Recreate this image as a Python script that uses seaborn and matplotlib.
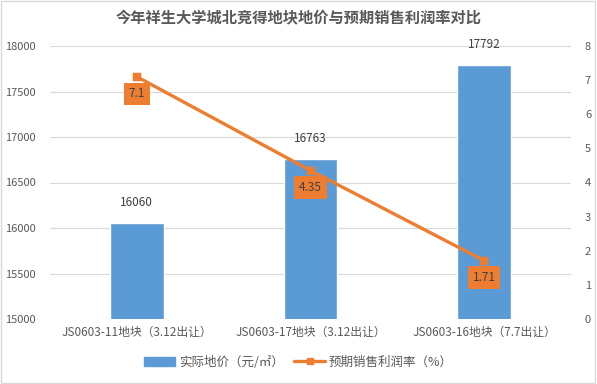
import matplotlib
matplotlib.use("Agg")
import matplotlib.pyplot as plt
import seaborn as sns
from matplotlib.patches import Patch
from matplotlib.lines import Line2D

categories = ["JS0603-11地块（3.12出让）", "JS0603-17地块（3.12出让）", "JS0603-16地块（7.7出让）"]
land_price = [16060, 16763, 17792]
profit_rate = [7.1, 4.35, 1.71]
rate_labels = ["7.1", "4.35", "1.71"]

BLUE = "#5B9BD5"
ORANGE = "#ED7D31"
TXT = "#595959"

sns.set_theme(style="white")
plt.rcParams["font.family"] = ["Noto Sans CJK SC", "DejaVu Sans"]

fig = plt.figure(figsize=(5.97, 3.84), dpi=100)
ax = fig.add_axes([50 / 597, 1 - 319 / 384, 521 / 597, 273 / 384])

sns.barplot(x=categories, y=land_price, color=BLUE, width=0.31, saturation=1, ax=ax)
ax.set_ylim(15000, 18000)
ax.set_yticks(range(15000, 18001, 500))
ax.yaxis.grid(True, color="#D9D9D9", linewidth=0.8)
ax.set_axisbelow(True)
for s in ax.spines.values():
    s.set_visible(False)
ax.tick_params(axis="y", labelsize=8, colors=TXT, length=0, pad=10)
ax.tick_params(axis="x", labelsize=8.5, colors=TXT, length=0, pad=5)
for i, v in enumerate(land_price):
    ax.annotate(str(v), (i, v), xytext=(0, 10), textcoords="offset points",
                ha="center", va="bottom", fontsize=8.5, color="#404040")

ax2 = ax.twinx()
sns.pointplot(x=categories, y=profit_rate, color=ORANGE, markers="s",
              markersize=5, linewidth=2.4, ax=ax2)
ax2.set_ylim(0, 8)
ax2.set_yticks(range(0, 9))
for s in ax2.spines.values():
    s.set_visible(False)
ax2.tick_params(axis="y", labelsize=8, colors=TXT, length=0, pad=10)
ax2.set_xlim(-0.5, 2.5)
ax.set_xlim(-0.5, 2.5)
for i, v in enumerate(profit_rate):
    ax2.text(i, v - 0.5, rate_labels[i], ha="center", va="center", fontsize=8.5,
             color="#404040",
             bbox=dict(boxstyle="square,pad=0.4", fc=ORANGE, ec="none"))

fig.text(0.5, 1 - 18 / 384, "今年祥生大学城北竞得地块地价与预期销售利润率对比",
         ha="center", va="center", fontsize=11, fontweight="bold", color=TXT)

handles = [Patch(color=BLUE, label="实际地价（元/㎡）"),
           Line2D([0], [0], color=ORANGE, lw=2.4, marker="s", markersize=5,
                  label="预期销售利润率（%）")]
fig.legend(handles=handles, loc="center", bbox_to_anchor=(0.5, 1 - 362 / 384), ncol=2,
           frameon=False, fontsize=9, labelcolor=TXT, handlelength=2.5,
           columnspacing=0.8, handletextpad=0.3)

fig.patches.append(plt.Rectangle((0.002, 0.003), 0.995, 0.994, transform=fig.transFigure,
                                 fill=False, ec="#D9D9D9", lw=1))

fig.savefig("out.png", dpi=100)
